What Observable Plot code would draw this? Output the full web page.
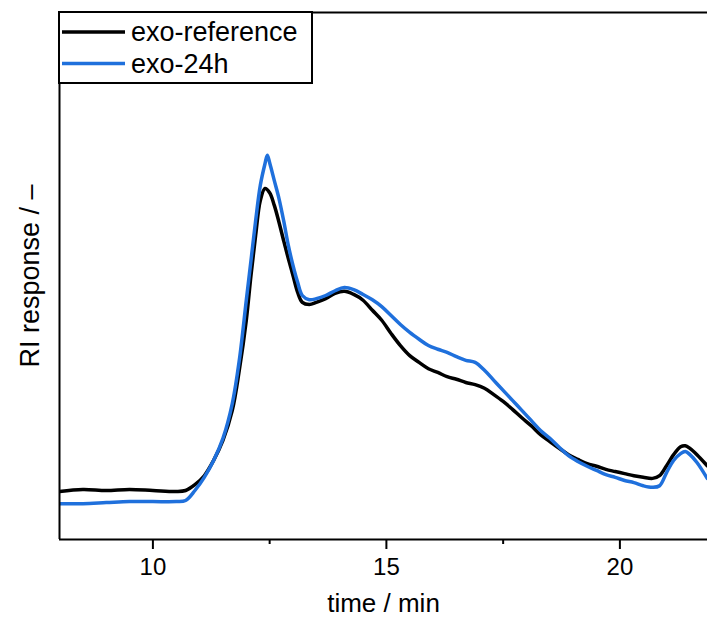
<!DOCTYPE html>
<html>
<head>
<meta charset="utf-8">
<script src="https://cdn.jsdelivr.net/npm/d3@7"></script>
<script src="https://cdn.jsdelivr.net/npm/@observablehq/plot@0.6"></script>
<style>
  html, body { margin: 0; padding: 0; background: white; }
  #chart { position: relative; width: 707px; height: 619px; }
</style>
</head>
<body>
<div id="chart"></div>
<script>
const seriesNames = ["exo-reference", "exo-24h"];
const seriesColors = ["#000000", "#1f70dc"];

const timeRef = [8.0,8.5,9.0,9.5,10.0,10.5,10.7,10.9,11.1,11.3,11.5,11.7,11.85,12.0,12.1,12.2,12.3,12.4,12.5,12.6,12.7,12.8,12.9,13.0,13.1,13.2,13.35,13.5,13.7,13.9,14.1,14.3,14.5,14.7,14.9,15.1,15.3,15.5,15.7,15.9,16.1,16.3,16.5,16.7,16.9,17.1,17.3,17.5,17.7,17.9,18.1,18.3,18.5,18.7,18.9,19.1,19.3,19.5,19.7,19.9,20.1,20.3,20.5,20.7,20.85,21.0,21.15,21.3,21.4,21.5,21.65,21.87];
const respRef = [9.1,9.5,9.3,9.5,9.3,9.1,9.3,10.4,12.1,15.0,18.8,24.5,32.1,41.6,50.1,57.7,64.3,66.6,65.8,63.4,60.2,56.7,53.3,50.1,46.9,45.0,44.6,45.0,45.7,46.7,47.1,46.5,45.4,43.5,41.6,39.1,36.8,34.9,33.6,32.4,31.7,30.9,30.4,29.8,29.4,28.7,27.5,26.2,24.7,23.1,21.6,19.9,18.6,17.3,16.1,15.2,14.4,13.9,13.3,12.9,12.5,12.1,11.8,11.6,12.1,14.0,16.1,17.6,17.8,17.3,16.1,14.0];

const time24 = [8.0,8.5,9.0,9.5,10.0,10.5,10.7,10.9,11.1,11.3,11.5,11.7,11.85,12.0,12.1,12.2,12.3,12.4,12.45,12.5,12.6,12.7,12.8,12.9,13.0,13.1,13.2,13.35,13.5,13.7,13.9,14.1,14.3,14.5,14.7,14.9,15.1,15.3,15.5,15.7,15.9,16.1,16.3,16.5,16.7,16.9,17.1,17.3,17.5,17.7,17.9,18.1,18.3,18.5,18.7,18.9,19.1,19.3,19.5,19.7,19.9,20.1,20.3,20.5,20.7,20.85,21.0,21.15,21.3,21.4,21.5,21.65,21.87];
const resp24 = [6.8,6.8,7.0,7.2,7.2,7.2,7.4,9.3,11.8,15.0,19.2,25.8,34.0,45.4,52.9,60.5,67.2,71.3,72.9,71.5,68.1,64.7,60.5,55.8,52.0,48.8,46.3,45.5,45.7,46.3,47.2,47.8,47.4,46.5,45.5,44.2,42.5,40.8,39.3,38.0,36.8,36.1,35.5,34.7,34.0,33.6,32.1,30.2,28.3,26.4,24.5,22.6,20.7,19.2,17.5,15.9,14.8,13.9,13.1,12.3,11.8,11.2,10.8,10.2,9.9,10.2,12.7,15.0,16.3,16.7,16.1,14.6,11.6];

const xDomain = [8, 21.876];
const yDomain = [0, 100];
const xMajorTicks = [10, 15, 20];
const xMinorTicks = [12.5, 17.5];
const xLabel = "time / min";
const yLabel = "RI response / \u2013";

const dataRef = timeRef.map((t, i) => ({t, r: respRef[i], s: seriesNames[0]}));
const data24 = time24.map((t, i) => ({t, r: resp24[i], s: seriesNames[1]}));

const font = "'Liberation Sans', Arial, Helvetica, sans-serif";

const plot = Plot.plot({
  width: 707,
  height: 619,
  marginLeft: 59,
  marginRight: 0,
  marginTop: 12,
  marginBottom: 80,
  style: {fontFamily: font, fontSize: "23px", background: "white", color: "black"},
  x: {domain: xDomain},
  y: {domain: yDomain},
  marks: [
    Plot.line(dataRef, {x: "t", y: "r", stroke: seriesColors[0], strokeWidth: 3.5, curve: "catmull-rom", clip: true}),
    Plot.line(data24, {x: "t", y: "r", stroke: seriesColors[1], strokeWidth: 3.5, curve: "catmull-rom", clip: true}),
    Plot.ruleX([xDomain[0]], {stroke: "black", strokeWidth: 2}),
    Plot.ruleY([yDomain[0]], {stroke: "black", strokeWidth: 2}),
    Plot.ruleY([yDomain[1]], {stroke: "black", strokeWidth: 2}),
    Plot.axisX({ticks: xMajorTicks, tickSize: 10, tickPadding: 8, strokeWidth: 2, fontSize: 24, label: null}),
    Plot.axisX({ticks: xMinorTicks, tickSize: 5, strokeWidth: 2, tickFormat: () => "", label: null}),
    Plot.axisX({ticks: [], tickSize: 0, label: xLabel, labelAnchor: "center", labelArrow: "none", labelOffset: 72, fontSize: 26}),
    Plot.axisY({ticks: [], tickSize: 0, label: yLabel, labelAnchor: "center", labelArrow: "none", labelOffset: 40, fontSize: 27})
  ]
});

document.getElementById("chart").appendChild(plot);

// legend inside the SVG
const svg = d3.select(plot);
const lg = svg.append("g").attr("transform", "translate(59,12)").attr("text-anchor", "start");
lg.append("rect").attr("x", 0).attr("y", 0).attr("width", 253).attr("height", 71)
  .attr("fill", "white").attr("stroke", "black").attr("stroke-width", 2);
seriesNames.forEach((name, i) => {
  const cy = 20 + i * 31.5;
  lg.append("line").attr("x1", 3).attr("x2", 66).attr("y1", cy).attr("y2", cy)
    .attr("stroke", seriesColors[i]).attr("stroke-width", 3.5);
  lg.append("text").attr("x", 72).attr("y", cy).attr("dy", "0.35em")
    .attr("text-anchor", "start")
    .attr("font-family", font).attr("font-size", 27).attr("fill", "black").text(name);
});
</script>
</body>
</html>
